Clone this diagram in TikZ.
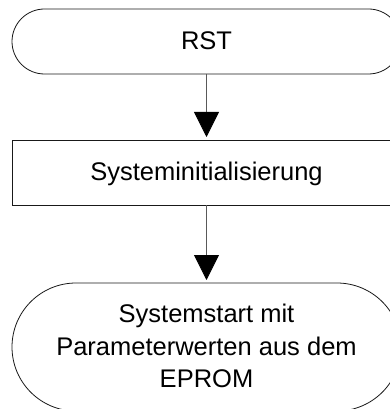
\documentclass[tikz,border=0pt]{standalone}
\usepackage{fontspec}
\setmainfont{Liberation Sans}
\usetikzlibrary{shapes.misc,arrows.meta}
\begin{document}
\begin{tikzpicture}[x=1pt,y=-1pt,
  every node/.style={font=\fontsize{25.5}{32.5}\selectfont, text=black, inner sep=0pt, outer sep=0pt},
  term/.style={rounded rectangle, draw=black!90, line width=0.8pt, minimum width=389pt, text depth=0.2em, align=center},
  procbox/.style={rectangle, draw=black!90, line width=0.8pt, minimum width=389pt, minimum height=65pt, text depth=0.2em},
  flow/.style={draw=black!65, line width=0.8pt, -{Triangle[width=25pt,length=25pt,black]}, shorten >=3pt}
]
\useasboundingbox (0,0) rectangle (390,409);
\clip (0,0) rectangle (390,409);
\node[term, minimum height=65pt] (rst) at (206.5,41.5) {RST};
\node[procbox] (init) at (206.5,172.5) {Systeminitialisierung};
\node[term, minimum height=128pt] (start) at (206.5,347) {Systemstart mit\\Parameterwerten aus dem\\EPROM};
\draw[flow] (rst.south) -- (init.north);
\draw[flow] (init.south) -- (start.north);
\end{tikzpicture}
\end{document}
